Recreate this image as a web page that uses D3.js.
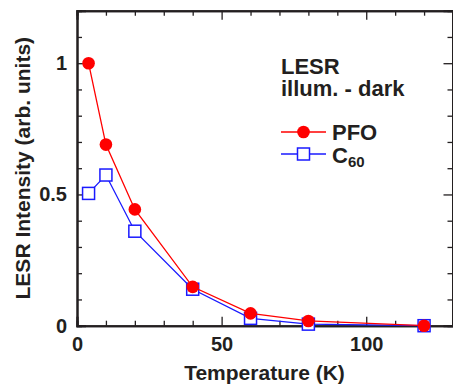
<!DOCTYPE html>
<html>
<head>
<meta charset="utf-8">
<script src="https://cdn.jsdelivr.net/npm/d3@7"></script>
<style>
  body { margin: 0; background: #fff; }
  text { font-family: "Liberation Sans", Arial, sans-serif; font-weight: bold; fill: #231f20; }
</style>
</head>
<body>
<script>
// data
const temps = [4, 10, 20, 40, 60, 80, 120];
const pfo = [1.0, 0.69, 0.443, 0.148, 0.047, 0.018, 0.0];
const c60 = [0.504, 0.574, 0.36, 0.139, 0.028, 0.006, 0.0];
const xMajor = [0, 50, 100];
const yMajor = [0, 0.5, 1];

const W = 453, H = 388;
const pLeft = 77, pRight = 453, pTop = 10.7, pBottom = 325.7;

const svg = d3.select("body").append("svg")
  .attr("width", W).attr("height", H);

const x = d3.scaleLinear().domain([0, 130]).range([pLeft, pRight]);
const y = d3.scaleLinear().domain([0, 1.2]).range([pBottom, pTop]);

const ink = "#231f20";

function styleAxis(g) {
  g.select(".domain").attr("stroke", ink).attr("stroke-width", 2);
  g.selectAll(".tick line").attr("stroke", ink).attr("stroke-width", 1.3);
}
function styleLabels(g) {
  g.selectAll("text").attr("font-size", 20).attr("fill", ink)
    .attr("font-family", "Liberation Sans, Arial, sans-serif").attr("font-weight", "bold");
}

// minor ticks
const xMinor = d3.range(0, 131, 10).filter(v => v % 50 !== 0);
const yMinor = d3.range(0, 12).map(v => v / 10).filter(v => Math.round(v * 10) % 5 !== 0);

// bottom
svg.append("g").attr("transform", `translate(0,${pBottom})`)
  .call(d3.axisBottom(x).tickValues(xMinor).tickSize(-5).tickFormat(""))
  .call(styleAxis);
svg.append("g").attr("transform", `translate(0,${pBottom})`)
  .call(d3.axisBottom(x).tickValues(xMajor).tickSize(-9).tickPadding(11).tickFormat(d3.format("d")))
  .call(styleAxis).call(styleLabels);
// top
svg.append("g").attr("transform", `translate(0,${pTop})`)
  .call(d3.axisTop(x).tickValues(xMinor).tickSize(-5).tickFormat(""))
  .call(styleAxis);
svg.append("g").attr("transform", `translate(0,${pTop})`)
  .call(d3.axisTop(x).tickValues(xMajor).tickSize(-9).tickFormat(""))
  .call(styleAxis);
// left
svg.append("g").attr("transform", `translate(${pLeft},0)`)
  .call(d3.axisLeft(y).tickValues(yMinor).tickSize(-5).tickFormat(""))
  .call(styleAxis);
svg.append("g").attr("transform", `translate(${pLeft},0)`)
  .call(d3.axisLeft(y).tickValues(yMajor).tickSize(-9).tickPadding(10).tickFormat(d => d === 0 ? "0" : d === 1 ? "1" : "0.5"))
  .call(styleAxis).call(styleLabels);
// right
svg.append("g").attr("transform", `translate(${pRight - 0.5},0)`)
  .call(d3.axisRight(y).tickValues(yMinor).tickSize(-5).tickFormat(""))
  .call(styleAxis);
svg.append("g").attr("transform", `translate(${pRight - 0.5},0)`)
  .call(d3.axisRight(y).tickValues(yMajor).tickSize(-9).tickFormat(""))
  .call(styleAxis);

// axis titles
svg.append("text")
  .attr("x", (pLeft + pRight) / 2 - 0.5).attr("y", 380)
  .attr("text-anchor", "middle").attr("font-size", 21)
  .text("Temperature (K)");
svg.append("text")
  .attr("transform", `translate(30,${(pTop + pBottom) / 2}) rotate(-90)`)
  .attr("text-anchor", "middle").attr("font-size", 21)
  .text("LESR Intensity (arb. units)");

// series
const line = d3.line().x(d => x(d[0])).y(d => y(d[1]));
const c60pts = temps.map((t, i) => [t, c60[i]]);
const pfopts = temps.map((t, i) => [t, pfo[i]]);
const sq = 12;

svg.append("path").datum(c60pts).attr("d", line)
  .attr("fill", "none").attr("stroke", "#1a1aff").attr("stroke-width", 1.3);
svg.selectAll(".c60").data(c60pts).enter().append("rect")
  .attr("x", d => x(d[0]) - sq / 2).attr("y", d => y(d[1]) - sq / 2)
  .attr("width", sq).attr("height", sq)
  .attr("fill", "#fff").attr("stroke", "#1a1aff").attr("stroke-width", 1.5);

svg.append("path").datum(pfopts).attr("d", line)
  .attr("fill", "none").attr("stroke", "#ff0000").attr("stroke-width", 1.3);
svg.selectAll(".pfo").data(pfopts).enter().append("circle")
  .attr("cx", d => x(d[0])).attr("cy", d => y(d[1])).attr("r", 6.3)
  .attr("fill", "#ff0000");

// legend
const lg = svg.append("g");
lg.append("text").attr("x", 281).attr("y", 74).attr("font-size", 22).text("LESR");
lg.append("text").attr("x", 281).attr("y", 96).attr("font-size", 22).text("illum. - dark");

lg.append("line").attr("x1", 281).attr("x2", 326).attr("y1", 132).attr("y2", 132)
  .attr("stroke", "#ff0000").attr("stroke-width", 1.3);
lg.append("circle").attr("cx", 303.5).attr("cy", 132).attr("r", 6.3).attr("fill", "#ff0000");
lg.append("text").attr("x", 332).attr("y", 140).attr("font-size", 22).text("PFO");

lg.append("line").attr("x1", 281).attr("x2", 326).attr("y1", 154).attr("y2", 154)
  .attr("stroke", "#1a1aff").attr("stroke-width", 1.3);
lg.append("rect").attr("x", 303.5 - sq / 2).attr("y", 154 - sq / 2).attr("width", sq).attr("height", sq)
  .attr("fill", "#fff").attr("stroke", "#1a1aff").attr("stroke-width", 1.5);
const ct = lg.append("text").attr("x", 332).attr("y", 163).attr("font-size", 22);
ct.append("tspan").text("C");
ct.append("tspan").attr("font-size", 15).attr("dy", 4).text("60");
</script>
</body>
</html>
